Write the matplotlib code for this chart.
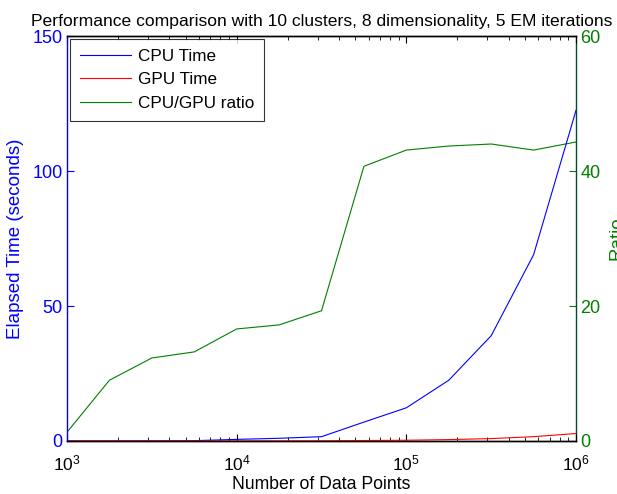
import matplotlib
matplotlib.use("Agg")
import matplotlib.pyplot as plt
from matplotlib.ticker import LogLocator, FixedLocator

plt.rcParams["font.family"] = ["Liberation Sans", "DejaVu Sans"]
plt.rcParams["mathtext.fontset"] = "custom"
plt.rcParams["mathtext.rm"] = "Liberation Sans"
plt.rcParams["mathtext.it"] = "Liberation Sans"

# data points (quarter-decade steps)
n_points = [1000, 1778, 3162, 5623, 10000, 17783, 31623, 56234,
            100000, 177828, 316228, 562341, 1000000]
cpu_time = [0.02, 0.04, 0.07, 0.12, 0.6, 1.0, 1.6, 7.0,
            12.3, 22.5, 39.0, 69.0, 122.5]
gpu_time = [0.015, 0.005, 0.006, 0.009, 0.035, 0.06, 0.08, 0.17,
            0.28, 0.52, 0.89, 1.6, 2.77]
ratio = [1.3, 9.0, 12.3, 13.2, 16.6, 17.2, 19.3, 40.7,
         43.1, 43.7, 44.0, 43.1, 44.3]

BLUE = "#0000ff"
RED = "#ff0000"
GREEN = "#008000"

fig = plt.figure(figsize=(6.17, 4.94), dpi=100)
ax = fig.add_axes([0.1086, 0.1073, 0.825, 0.8198])
ax2 = ax.twinx()

l1, = ax.plot(n_points, cpu_time, color=BLUE, lw=0.8, label="CPU Time")
l2, = ax.plot(n_points, gpu_time, color=RED, lw=0.8, label="GPU Time")
l3, = ax2.plot(n_points, ratio, color=GREEN, lw=0.8, label="CPU/GPU ratio")

ax.set_xscale("log")
ax.set_xlim(1e3, 1e6)
ax.set_ylim(0, 150)
ax2.set_ylim(0, 60)
ax.yaxis.set_major_locator(FixedLocator([0, 50, 100, 150]))
ax2.yaxis.set_major_locator(FixedLocator([0, 20, 40, 60]))
ax.xaxis.set_major_locator(LogLocator(base=10))
ax.xaxis.set_minor_locator(LogLocator(base=10, subs=range(2, 10)))

ax.tick_params(axis="x", which="both", direction="in", top=True,
               labelsize=12.5, pad=9)
ax.tick_params(axis="x", which="major", length=5)
ax.tick_params(axis="x", which="minor", length=3)
ax.tick_params(axis="y", direction="in", colors=BLUE, labelsize=13,
               length=5, pad=3)
ax2.tick_params(axis="y", direction="in", colors=GREEN, labelsize=13,
                length=5, pad=3)

ax.spines["left"].set_color(BLUE)
ax2.spines["left"].set_visible(False)
ax2.spines["right"].set_color("#0a4a2a")
ax.spines["right"].set_visible(False)
for a in (ax, ax2):
    for s in a.spines.values():
        s.set_linewidth(1.0)

ax.set_xlabel("Number of Data Points", fontsize=12.7, labelpad=2)
ax.set_ylabel("Elapsed Time (seconds)", fontsize=13.5, color=BLUE, labelpad=6)
ax2.set_ylabel("Ratio", fontsize=13.5, color=GREEN, labelpad=6)
ax.set_title("Performance comparison with 10 clusters, 8 dimensionality, 5 EM iterations",
             fontsize=12.6, pad=7)

leg = ax.legend(handles=[l1, l2, l3], loc="upper left", fontsize=12.3,
                frameon=True, fancybox=False, edgecolor="black",
                borderaxespad=0.15, borderpad=0.6, handlelength=3.0,
                handletextpad=0.4, labelspacing=0.5)
leg.get_frame().set_linewidth(0.8)
leg.set_zorder(5)
ax.set_zorder(ax2.get_zorder() + 1)
ax.patch.set_visible(False)

fig.savefig("out.png", dpi=100)
